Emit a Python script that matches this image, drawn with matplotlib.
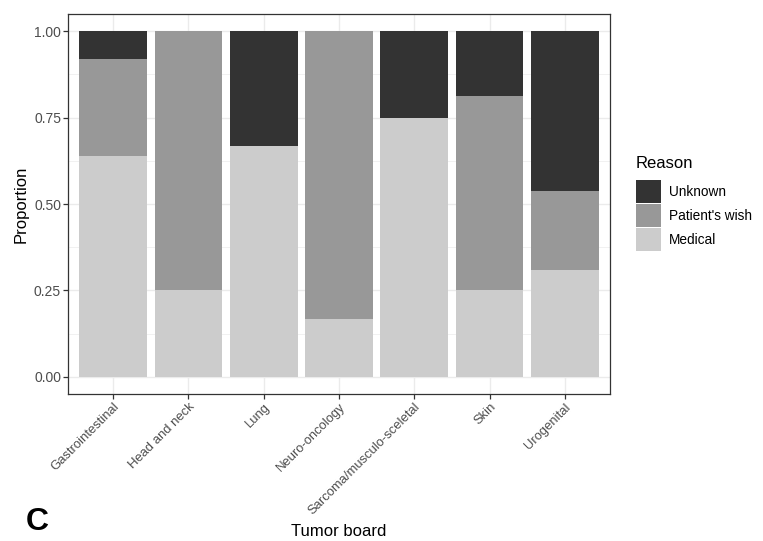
import matplotlib
matplotlib.use("Agg")
import matplotlib.pyplot as plt
from matplotlib.patches import Patch
from matplotlib.ticker import MultipleLocator
import numpy as np

plt.rcParams['font.family'] = ['Liberation Sans', 'DejaVu Sans']

boards = ["Gastrointestinal", "Head and neck", "Lung", "Neuro-oncology",
          "Sarcoma/musculo-sceletal", "Skin", "Urogenital"]
medical = [0.64, 0.25, 0.667, 0.167, 0.75, 0.25, 0.308]
patients_wish = [0.28, 0.75, 0.0, 0.833, 0.0, 0.5625, 0.231]
unknown = [0.08, 0.0, 0.333, 0.0, 0.25, 0.1875, 0.461]

reasons = ["Unknown", "Patient's wish", "Medical"]
colors = {"Unknown": "#333333", "Patient's wish": "#989898", "Medical": "#cccccc"}

fig = plt.figure(figsize=(7.63, 5.41), dpi=100)
ax = fig.add_axes([68 / 763, 1 - 394 / 541, (610 - 68) / 763, (394 - 14) / 541])

x = np.arange(1, len(boards) + 1)
w = 0.9
bottom = np.zeros(len(boards))
for name, vals in [("Medical", medical), ("Patient's wish", patients_wish), ("Unknown", unknown)]:
    v = np.array(vals)
    ax.bar(x, v, width=w, bottom=bottom, color=colors[name], linewidth=0, zorder=2)
    bottom += v

ax.set_xlim(0.4, 7.6)
ax.set_ylim(-0.05, 1.05)
ax.yaxis.set_minor_locator(MultipleLocator(0.125))
ax.set_yticks([0, 0.25, 0.5, 0.75, 1.0])
ax.set_yticklabels(["0.00", "0.25", "0.50", "0.75", "1.00"])
ax.set_xticks(x)
ax.set_xticklabels(boards, rotation=45, ha="right", va="top", rotation_mode="anchor")

ax.grid(True, which="major", color="#ebebeb", linewidth=1.0, zorder=0)
ax.grid(True, which="minor", axis="y", color="#ebebeb", linewidth=0.5, zorder=0)
ax.set_axisbelow(True)
for s in ax.spines.values():
    s.set_color("#333333")
    s.set_linewidth(0.9)
ax.tick_params(axis="both", which="major", color="#333333", length=3.5, width=0.9,
               labelcolor="#4d4d4d", pad=1.5)
ax.tick_params(axis="y", which="major", labelsize=10)
ax.tick_params(axis="x", which="major", labelsize=9.4)
ax.tick_params(axis="y", which="minor", length=0)

ax.set_ylabel("Proportion", fontsize=12, labelpad=4)
fig.text(339 / 763, 1 - 531 / 541, "Tumor board", ha="center", va="center", fontsize=12)
fig.text(37 / 763, 1 - 522 / 541, "C", ha="center", va="center", fontsize=23, fontweight="bold")

handles = [Patch(facecolor=colors[r], edgecolor="none") for r in reasons]
leg = fig.legend(handles, reasons, loc="upper left", bbox_to_anchor=(626 / 763, 1 - 146 / 541),
                 frameon=False, fontsize=9.8, title="Reason", title_fontsize=12,
                 handlelength=1.85, handleheight=2.2, labelspacing=0.08,
                 handletextpad=0.6, borderpad=0.2, alignment="left")
# extra room between the legend title and its keys
leg._legend_box.sep = 7

fig.savefig("out.png", dpi=100)
